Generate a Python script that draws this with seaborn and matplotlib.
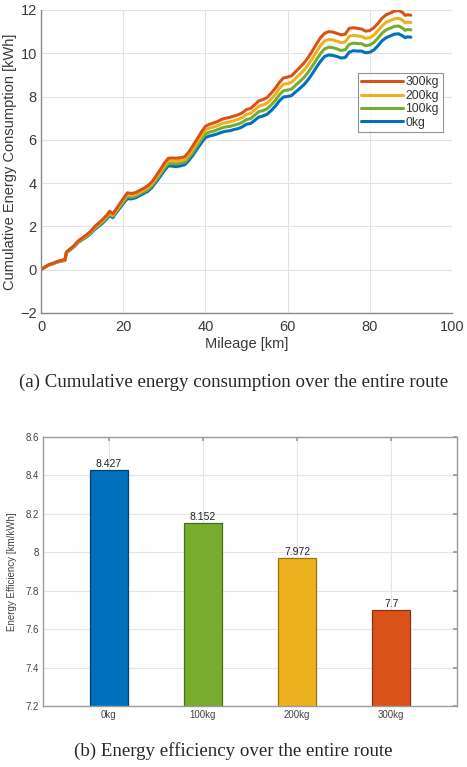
import matplotlib
matplotlib.use("Agg")
import matplotlib.pyplot as plt
import seaborn as sns
import pandas as pd
from matplotlib.lines import Line2D

# ---------------- data ----------------
mileage = [0, 1, 2, 3, 4, 5, 5.8, 6.2, 7, 8, 9, 10, 11, 12, 13, 14, 15, 16, 16.7, 17.5,
           18, 19, 20, 21, 22, 23, 24, 25, 26, 27, 28, 29, 30, 31, 32, 33, 34, 35, 36, 37,
           38, 39, 40, 41, 42, 43, 44, 45, 46, 47, 48, 49, 50, 51, 52, 53, 54, 55, 56, 57,
           58, 59, 60, 61, 62, 63, 64, 65, 66, 67, 68, 69, 70, 71, 72, 73, 74, 75, 76, 77,
           78, 79, 80, 81, 82, 83, 84, 85, 86, 87, 88, 88.6, 89.2, 90]

e_0kg = [0, 0.12, 0.22, 0.28, 0.35, 0.40, 0.42, 0.78, 0.90, 1.05, 1.25, 1.38, 1.50, 1.65, 1.85,
         2.00, 2.15, 2.35, 2.50, 2.40, 2.55, 2.80, 3.05, 3.28, 3.27, 3.32, 3.42, 3.52, 3.62,
         3.80, 4.05, 4.30, 4.58, 4.80, 4.78, 4.76, 4.80, 4.85, 5.05, 5.30, 5.58, 5.85, 6.10,
         6.18, 6.22, 6.28, 6.35, 6.40, 6.42, 6.48, 6.52, 6.60, 6.72, 6.75, 6.90, 7.05, 7.10,
         7.18, 7.35, 7.55, 7.80, 7.98, 8.00, 8.05, 8.22, 8.38, 8.55, 8.78, 9.05, 9.35, 9.62,
         9.85, 9.92, 9.90, 9.85, 9.78, 9.80, 10.05, 10.12, 10.10, 10.10, 10.02, 10.05, 10.15,
         10.35, 10.58, 10.72, 10.80, 10.88, 10.90, 10.80, 10.72, 10.76, 10.74]

e_100kg = [0, 0.12, 0.22, 0.28, 0.36, 0.41, 0.43, 0.79, 0.92, 1.07, 1.27, 1.41, 1.53, 1.69, 1.90,
           2.05, 2.20, 2.40, 2.56, 2.46, 2.60, 2.86, 3.12, 3.37, 3.35, 3.40, 3.50, 3.60, 3.70,
           3.88, 4.14, 4.40, 4.69, 4.91, 4.90, 4.89, 4.92, 4.97, 5.18, 5.44, 5.73, 6.01, 6.27,
           6.36, 6.40, 6.47, 6.55, 6.60, 6.62, 6.68, 6.73, 6.81, 6.94, 6.98, 7.14, 7.30, 7.35,
           7.43, 7.61, 7.82, 8.08, 8.27, 8.30, 8.35, 8.53, 8.70, 8.88, 9.12, 9.40, 9.70, 9.98,
           10.20, 10.28, 10.26, 10.20, 10.13, 10.16, 10.41, 10.47, 10.45, 10.44, 10.35, 10.38,
           10.50, 10.70, 10.93, 11.08, 11.16, 11.24, 11.26, 11.16, 11.06, 11.10, 11.08]

e_200kg = [0, 0.13, 0.23, 0.29, 0.37, 0.42, 0.45, 0.81, 0.93, 1.08, 1.29, 1.43, 1.56, 1.72, 1.94,
           2.10, 2.26, 2.46, 2.63, 2.52, 2.66, 2.93, 3.20, 3.46, 3.44, 3.48, 3.58, 3.68, 3.79,
           3.97, 4.24, 4.51, 4.81, 5.03, 5.03, 5.02, 5.05, 5.10, 5.32, 5.59, 5.89, 6.18, 6.45,
           6.54, 6.59, 6.66, 6.75, 6.80, 6.83, 6.89, 6.95, 7.03, 7.17, 7.22, 7.38, 7.55, 7.61,
           7.69, 7.88, 8.10, 8.37, 8.57, 8.60, 8.66, 8.85, 9.03, 9.22, 9.46, 9.75, 10.06, 10.35,
           10.56, 10.64, 10.62, 10.56, 10.49, 10.52, 10.78, 10.83, 10.80, 10.78, 10.69, 10.72,
           10.84, 11.04, 11.27, 11.43, 11.51, 11.59, 11.62, 11.52, 11.41, 11.44, 11.42]

e_300kg = [0, 0.13, 0.24, 0.30, 0.38, 0.43, 0.46, 0.82, 0.95, 1.10, 1.32, 1.46, 1.60, 1.76, 1.98,
           2.15, 2.32, 2.52, 2.70, 2.58, 2.72, 3.00, 3.28, 3.55, 3.52, 3.56, 3.66, 3.76, 3.88,
           4.06, 4.33, 4.62, 4.92, 5.15, 5.16, 5.15, 5.18, 5.22, 5.45, 5.74, 6.04, 6.35, 6.62,
           6.72, 6.78, 6.85, 6.95, 7.00, 7.04, 7.10, 7.16, 7.25, 7.40, 7.45, 7.62, 7.80, 7.86,
           7.95, 8.15, 8.38, 8.65, 8.86, 8.90, 8.96, 9.16, 9.35, 9.55, 9.80, 10.10, 10.42, 10.72,
           10.92, 11.00, 10.98, 10.92, 10.85, 10.88, 11.15, 11.18, 11.15, 11.12, 11.02, 11.05,
           11.18, 11.38, 11.62, 11.78, 11.86, 11.95, 11.98, 11.88, 11.75, 11.78, 11.76]

load_labels = ["0kg", "100kg", "200kg", "300kg"]
efficiency = [8.427, 8.152, 7.972, 7.7]

legend_order = ["300kg", "200kg", "100kg", "0kg"]
colors = {"0kg": "#0072BD", "100kg": "#77AC30", "200kg": "#EDB120", "300kg": "#D95319"}
edge_colors = ["#06406a", "#4a6d1c", "#9a7414", "#8a3510"]

# ---------------- figure ----------------
sns.set_theme(style="white")
plt.rcParams["font.family"] = ["Liberation Sans", "DejaVu Sans"]
serif = ["Liberation Serif", "DejaVu Serif"]

fig = plt.figure(figsize=(4.67, 7.67), dpi=100)

# ---- top: cumulative energy ----
ax1 = fig.add_axes([0.0878, 0.592, 0.880, 0.395])
rows = []
for lab, arr in zip(load_labels, [e_0kg, e_100kg, e_200kg, e_300kg]):
    for m, v in zip(mileage, arr):
        rows.append({"Mileage": m, "Energy": v, "Load": lab})
df = pd.DataFrame(rows)
sns.lineplot(data=df, x="Mileage", y="Energy", hue="Load", hue_order=load_labels,
             palette=colors, linewidth=2.2, ax=ax1, legend=False, estimator=None, sort=False)
ax1.set_xlim(0, 100)
ax1.set_ylim(-2, 12)
ax1.set_xticks(range(0, 101, 20))
ax1.set_yticks(range(-2, 13, 2))
ax1.grid(True, color="#e3e3e3", linewidth=0.8)
for s in ["top", "right"]:
    ax1.spines[s].set_visible(False)
for s in ["left", "bottom"]:
    ax1.spines[s].set_color("#8a8a8a")
    ax1.spines[s].set_linewidth(1.0)
ax1.tick_params(direction="in", length=3, color="#8a8a8a", labelsize=10.5, labelcolor="#3a3a3a")
ax1.tick_params(axis="x", pad=5)
ax1.tick_params(axis="y", pad=3)
ax1.set_xlabel("Mileage [km]", fontsize=10.5, color="#3a3a3a", labelpad=2)
ax1.set_ylabel("Cumulative Energy Consumption [kWh]", fontsize=10.5, color="#3a3a3a", labelpad=2)

handles = [Line2D([0], [0], color=colors[l], lw=2.2) for l in legend_order]
leg = ax1.legend(handles, legend_order, loc="upper left", bbox_to_anchor=(0.771, 0.793),
                 fontsize=8.7, frameon=True, fancybox=False, edgecolor="#777777",
                 handlelength=3.4, handletextpad=0.25, labelspacing=0.12,
                 borderpad=0.3, borderaxespad=0)
leg.get_frame().set_linewidth(0.8)
for t in leg.get_texts():
    t.set_color("#333333")

fig.text(0.5, 0.502, "(a) Cumulative energy consumption over the entire route",
         ha="center", va="center", fontsize=13.6, family=serif)

# ---- bottom: efficiency ----
ax2 = fig.add_axes([0.092, 0.0795, 0.8866, 0.3507])
dfb = pd.DataFrame({"Load": load_labels, "Efficiency": efficiency})
sns.barplot(data=dfb, x="Load", y="Efficiency", hue="Load", palette=colors, saturation=1,
            width=0.4, ax=ax2, legend=False, linewidth=0.9)
for patch, ec in zip(ax2.patches, edge_colors):
    patch.set_edgecolor(ec)
ax2.set_xlim(-0.7, 3.7)
ax2.set_ylim(7.2, 8.6)
yt = [7.2, 7.4, 7.6, 7.8, 8.0, 8.2, 8.4, 8.6]
ax2.set_yticks(yt)
ax2.set_yticklabels(["7.2", "7.4", "7.6", "7.8", "8", "8.2", "8.4", "8.6"])
ax2.grid(True, color="#e6e6e6", linewidth=0.8)
ax2.set_axisbelow(True)
for s in ax2.spines.values():
    s.set_color("#9a9a9a")
    s.set_linewidth(1.0)
ax2.tick_params(direction="in", length=3, color="#9a9a9a", labelsize=7, labelcolor="#444444",
                pad=3, top=True, right=True)
ax2.set_xlabel("")
ax2.set_ylabel("Energy Efficiency [km/kWh]", fontsize=7, color="#444444", labelpad=6)
for i, v in enumerate(efficiency):
    ax2.text(i, v + 0.005, f"{v:g}", ha="center", va="bottom", fontsize=7.5, color="#222222")

fig.text(0.5, 0.021, "(b) Energy efficiency over the entire route",
         ha="center", va="center", fontsize=13.6, family=serif)

fig.savefig("out.png", dpi=100)
